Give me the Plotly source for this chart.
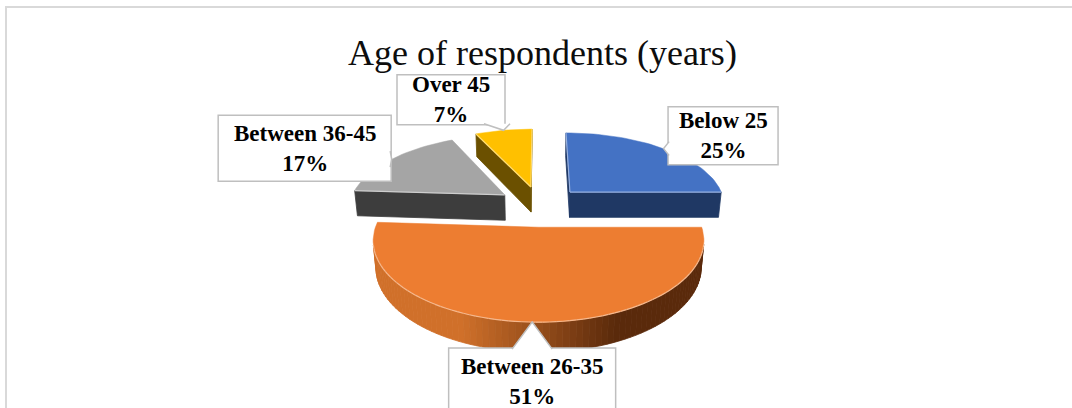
import numpy as np
import plotly.graph_objects as go

# ---- data -------------------------------------------------------------
categories = ["Below 25", "Between 26-35", "Between 36-45", "Over 45"]
shares = [25, 51, 17, 7]          # percent of respondents
chart_title = "Age of respondents (years)"

# ---- styling ----------------------------------------------------------
top_colors = ["#4472C4", "#ED7D31", "#A5A5A5", "#FFC000"]
side_light = ["#2F5597", "#D0702A", "#595959", "#806000"]
side_dark = ["#1F3864", "#5A2A0B", "#3D3D3D", "#6B5000"]

W, H = 1072, 408
CX, CY = 540.0, 206.0            # screen position of the pie axis
FOCAL, DIST = 878.0, 5.63        # simple perspective camera
ELEV = np.radians(27.7)          # camera tilt
THICK = 0.19                     # pie thickness (radius = 1)
EXPLODE = 0.28                   # slice pull-out distance

# label box centre relative to the slice pointer tip, and box size (px)
label_offset = {
    "Below 25": (59.5, -12.7),
    "Between 26-35": (0, 59),
    "Between 36-45": (-87, -11),
    "Over 45": (-52.6, -30.5),
}
label_size = {
    "Below 25": (110, 58),
    "Between 26-35": (167, 66),
    "Between 36-45": (173, 66),
    "Over 45": (108, 50),
}
LABEL_FONT = dict(family="Liberation Serif, Times New Roman, serif", size=23, color="#000000")

COS_E, SIN_E = np.cos(ELEV), np.sin(ELEV)
CAM = np.array([0.0, -DIST * COS_E, DIST * SIN_E])


def project(X, Y, Z):
    X, Y, Z = np.asarray(X, float), np.asarray(Y, float), np.asarray(Z, float)
    yc = Y * SIN_E + Z * COS_E
    zc = DIST + Y * COS_E - Z * SIN_E
    return CX + FOCAL * X / zc, CY - FOCAL * yc / zc


def hex_rgb(h):
    h = h.lstrip("#")
    return np.array([int(h[i:i + 2], 16) for i in (0, 2, 4)], float)


def mix(c1, c2, t):
    c = hex_rgb(c1) * (1 - t) + hex_rgb(c2) * t
    return "rgb({:.0f},{:.0f},{:.0f})".format(*c)


def poly_trace(xs, ys, color, lw=0.8):
    return go.Scatter(
        x=list(xs) + [xs[0]], y=list(ys) + [ys[0]], mode="lines",
        fill="toself", fillcolor=color, line=dict(color=color, width=lw),
        hoverinfo="skip", showlegend=False,
    )


# ---- build slice geometry --------------------------------------------
total = float(sum(shares))
slices = []
acc = 0.0
for i, (name, val) in enumerate(zip(categories, shares)):
    a0 = 2 * np.pi * acc / total
    a1 = 2 * np.pi * (acc + val) / total
    acc += val
    mid = 0.5 * (a0 + a1)
    ox, oy = EXPLODE * np.sin(mid), EXPLODE * np.cos(mid)
    n = max(3, int(np.degrees(a1 - a0) / 2) + 1)
    th = np.linspace(a0, a1, n)
    px = np.concatenate([[ox], ox + np.sin(th)])
    py = np.concatenate([[oy], oy + np.cos(th)])
    edge_ang = np.concatenate([[np.nan], th])
    tip = project(ox + np.sin(mid), oy + np.cos(mid), 0.0)
    slices.append(dict(i=i, name=name, val=val, px=px, py=py, ang=edge_ang,
                       depth=oy, tip=(float(tip[0]), float(tip[1]))))

fig = go.Figure()

# far slices first, the front slice last
for s in sorted(slices, key=lambda d: -d["depth"]):
    i, px, py, ang = s["i"], s["px"], s["py"], s["ang"]
    m = len(px)
    faces = []
    highlight_x, highlight_y = [], []
    for k in range(m):
        j = (k + 1) % m
        ex, ey = px[j] - px[k], py[j] - py[k]
        if np.hypot(ex, ey) < 1e-9:
            continue
        nx, ny = -ey, ex
        mx, my = 0.5 * (px[k] + px[j]), 0.5 * (py[k] + py[j])
        if nx * (CAM[0] - mx) + ny * (CAM[1] - my) <= 0:
            continue
        if k == 0 or j == 0:
            col = side_dark[i]
        else:
            t = 0.5 * (ang[k] + ang[j])
            w = (1 - np.sin(t)) / 2
            w = float(np.clip((w - 0.3) / 0.4, 0, 1))
            col = mix(side_dark[i], side_light[i], w)
        qx, qy = project([px[k], px[j], px[j], px[k]], [py[k], py[j], py[j], py[k]],
                         [0, 0, -THICK, -THICK])
        zc = DIST + my * COS_E
        faces.append((zc, qx, qy, col))
        tx, ty = project([px[k], px[j]], [py[k], py[j]], [0, 0])
        highlight_x += [tx[0], tx[1], None]
        highlight_y += [ty[0], ty[1], None]
    for _, qx, qy, col in sorted(faces, key=lambda f: -f[0]):
        fig.add_trace(poly_trace(qx, qy, col))
    tx, ty = project(px, py, np.zeros_like(px))
    fig.add_trace(poly_trace(tx, ty, top_colors[i], lw=0.5))
    fig.add_trace(go.Scatter(x=highlight_x, y=highlight_y, mode="lines",
                             line=dict(color=mix(top_colors[i], "#FFFFFF", 0.45), width=1.2),
                             hoverinfo="skip", showlegend=False))

# ---- callout labels ---------------------------------------------------
shapes = [dict(type="rect", xref="x", yref="y", x0=6, y0=7, x1=W + 10, y1=H + 10,
               line=dict(color="#D9D9D9", width=2), fillcolor="rgba(0,0,0,0)", layer="below")]
annotations = []
for s in slices:
    name = s["name"]
    tx, ty = s["tip"]
    dx, dy = label_offset[name]
    bw, bh = label_size[name]
    cx, cy = tx + dx, ty + dy
    x0, x1, y0, y1 = cx - bw / 2, cx + bw / 2, cy - bh / 2, cy + bh / 2
    shapes.append(dict(type="rect", xref="x", yref="y", x0=x0, x1=x1, y0=y0, y1=y1,
                       fillcolor="#FFFFFF", line=dict(color="#BFBFBF", width=1.5)))
    inside = x0 <= tx <= x1 and y0 <= ty <= y1
    if not inside:
        if ty > y1:
            ex, ey, horiz = min(max(tx, x0 + 8), x1 - 8), y1 - 1, True
        elif ty < y0:
            ex, ey, horiz = min(max(tx, x0 + 8), x1 - 8), y0 + 1, True
        elif tx < x0:
            ex, ey, horiz = x0 + 1, min(max(ty, y0 + 6), y1 - 6), False
        else:
            ex, ey, horiz = x1 - 1, min(max(ty, y0 + 6), y1 - 6), False
        half = 0.12 * (bw if horiz else bh)
        if horiz:
            b1, b2 = (ex - half, ey), (ex + half, ey)
        else:
            b1, b2 = (ex, ey - half), (ex, ey + half)
        path = "M {:.1f},{:.1f} L {:.1f},{:.1f} L {:.1f},{:.1f}".format(b1[0], b1[1], tx, ty, b2[0], b2[1])
        shapes.append(dict(type="path", xref="x", yref="y", path=path,
                           fillcolor="#FFFFFF", line=dict(color="#BFBFBF", width=1.5)))
    annotations.append(dict(x=cx, y=cy, xref="x", yref="y", showarrow=False,
                            xanchor="center", yanchor="middle", align="center",
                            text="<b>{}</b><br><b>{}%</b>".format(name, s["val"]),
                            font=LABEL_FONT))

annotations.append(dict(x=542, y=53, xref="x", yref="y", showarrow=False,
                        xanchor="center", yanchor="middle", text=chart_title,
                        font=dict(family="Liberation Serif, Times New Roman, serif",
                                  size=36, color="#0D0D0D")))

fig.update_layout(
    width=W, height=H, margin=dict(l=0, r=0, t=0, b=0),
    paper_bgcolor="#FFFFFF", plot_bgcolor="#FFFFFF",
    xaxis=dict(range=[0, W], visible=False, fixedrange=True),
    yaxis=dict(range=[H, 0], visible=False, fixedrange=True),
    shapes=shapes, annotations=annotations, showlegend=False,
)

fig.write_html("out.html")
